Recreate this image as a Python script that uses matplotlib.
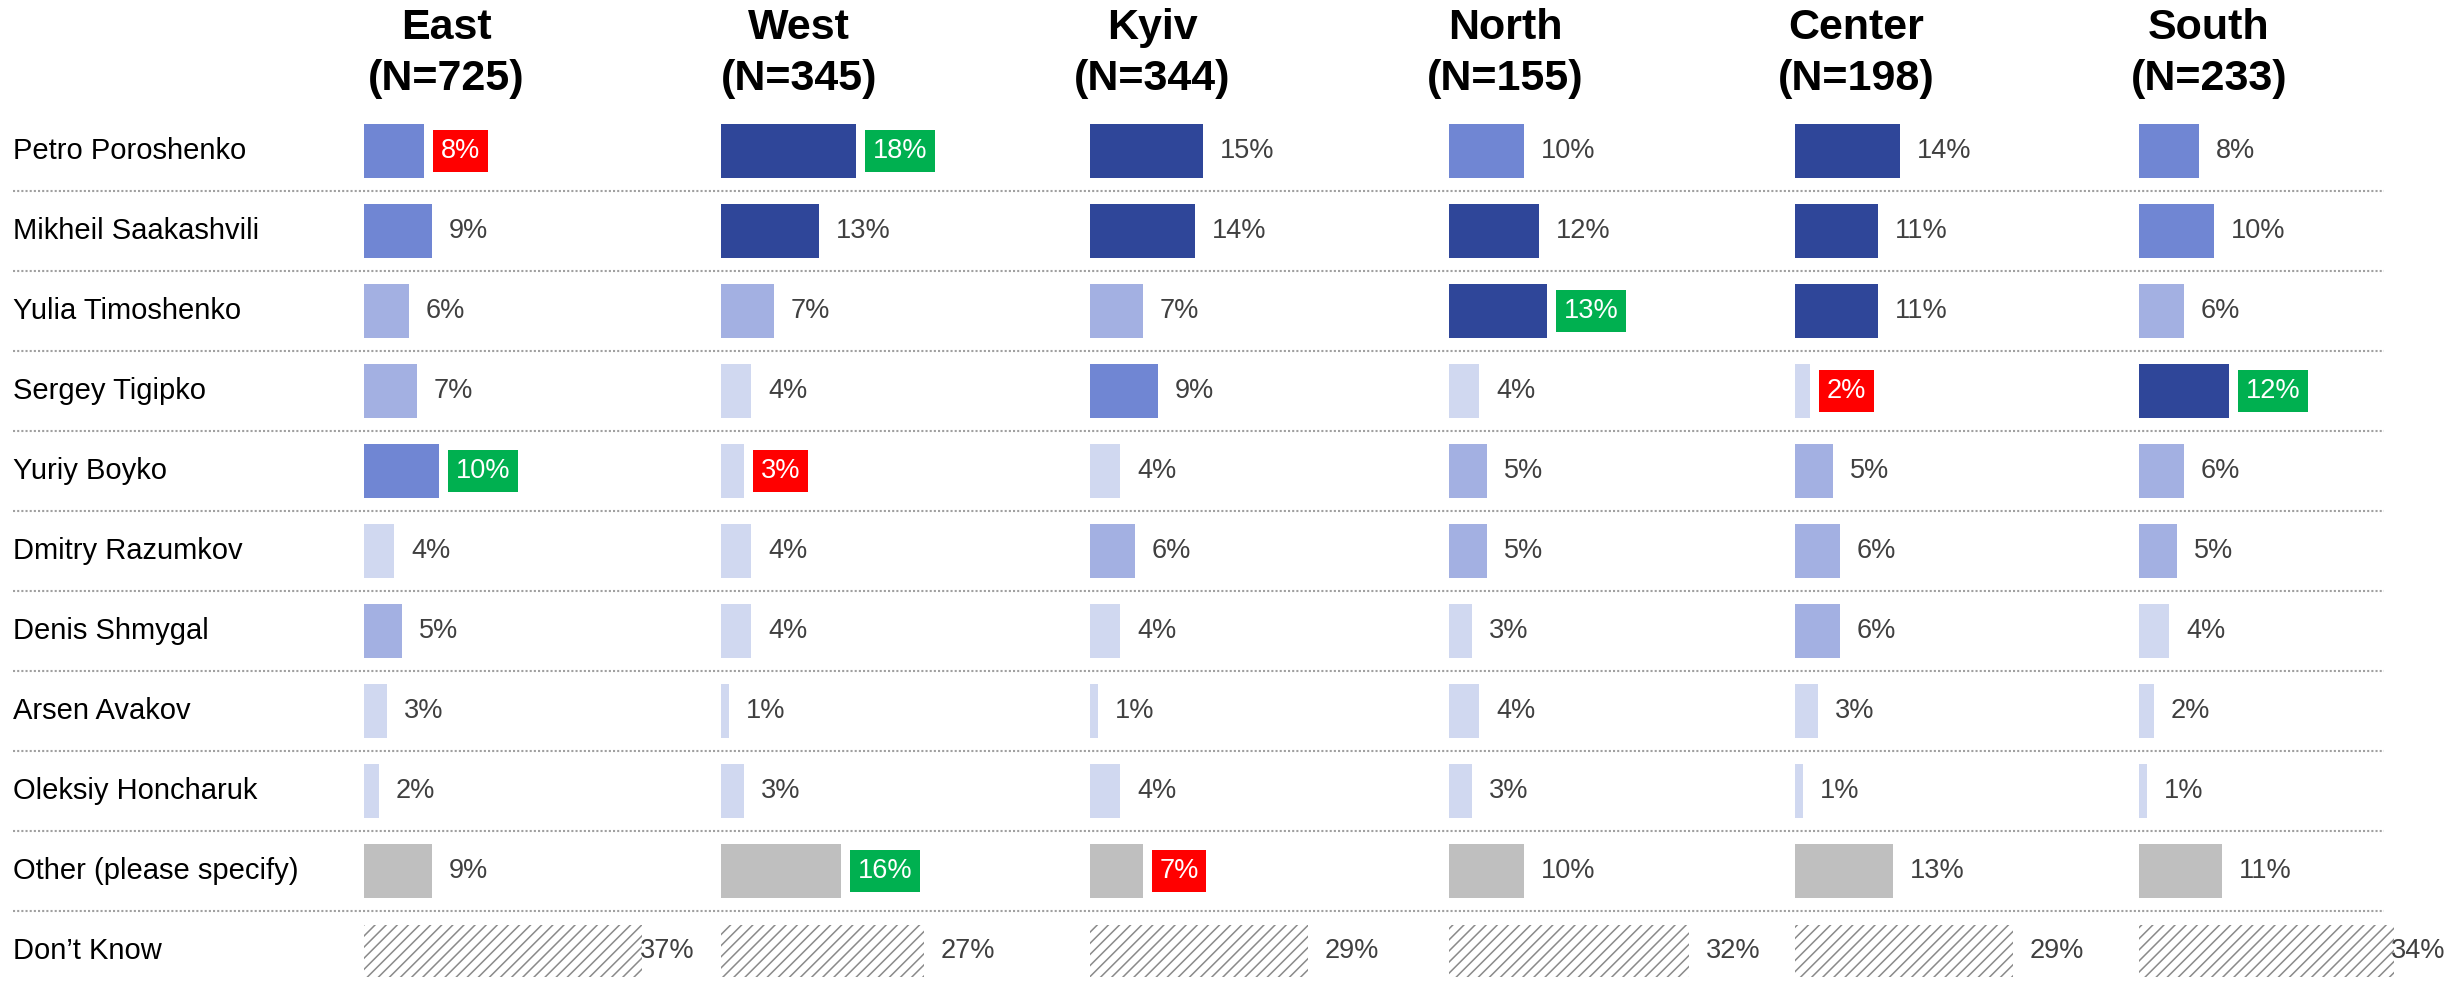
import matplotlib
matplotlib.use('Agg')
import matplotlib.pyplot as plt

plt.rcParams['font.family'] = ['Liberation Sans', 'DejaVu Sans']
plt.rcParams['hatch.linewidth'] = 1.1

# ---------------- data ----------------
candidates = ["Petro Poroshenko", "Mikheil Saakashvili", "Yulia Timoshenko",
              "Sergey Tigipko", "Yuriy Boyko", "Dmitry Razumkov", "Denis Shmygal",
              "Arsen Avakov", "Oleksiy Honcharuk", "Other (please specify)",
              "Don\u2019t Know"]
regions = ["East", "West", "Kyiv", "North", "Center", "South"]
sample_sizes = [725, 345, 344, 155, 198, 233]

east = [8, 9, 6, 7, 10, 4, 5, 3, 2, 9, 37]
west = [18, 13, 7, 4, 3, 4, 4, 1, 3, 16, 27]
kyiv = [15, 14, 7, 9, 4, 6, 4, 1, 4, 7, 29]
north = [10, 12, 13, 4, 5, 5, 3, 4, 3, 10, 32]
center = [14, 11, 11, 2, 5, 6, 6, 3, 1, 13, 29]
south = [8, 10, 6, 12, 6, 5, 4, 2, 1, 11, 34]
values = [east, west, kyiv, north, center, south]

# highlighted labels: (region, candidate index, kind)
highlights = [("East", 0, "low"), ("East", 4, "high"),
              ("West", 0, "high"), ("West", 4, "low"), ("West", 9, "high"),
              ("Kyiv", 9, "low"), ("North", 2, "high"),
              ("Center", 3, "low"), ("South", 3, "high")]

# ---------------- style / layout ----------------
W, H = 2451, 990
DARK, MED, LIGHT, VLIGHT = "#2F4699", "#7086D3", "#A3B0E2", "#D0D8F0"
GRAY = "#BFBFBF"
TXT = "#404040"
BOX = {"high": "#00B050", "low": "#FF0000"}

col_left_px = [364, 721, 1090, 1449, 1795, 2139]
title_cx_px = [446, 799, 1152, 1505, 1856, 2209]
px_per_pct = 7.5
ax_w_px = 330
rows_top_px, row_h_px = 111, 80
n_rows = len(candidates)
gap_px = 17
label_cap_pct = 36.8


def tier(v):
    if v >= 11:
        return DARK
    if v >= 8:
        return MED
    if v >= 5:
        return LIGHT
    return VLIGHT


fig = plt.figure(figsize=(W / 100, H / 100), dpi=100)

# background axes in pixel coordinates for separators and row labels
bg = fig.add_axes([0, 0, 1, 1])
bg.set_xlim(0, W)
bg.set_ylim(H, 0)
bg.axis("off")

for k in range(1, n_rows):
    y = rows_top_px + row_h_px * k
    bg.plot([13, 2384], [y, y], color="#A0A0A0", lw=1.5,
            linestyle=(0, (1, 1)), solid_capstyle="butt")

for i, name in enumerate(candidates):
    y = rows_top_px + row_h_px * (i + 0.5)
    bg.text(13, y, name, fontsize=21, color="#000000", va="center", ha="left")

for cx, reg, n in zip(title_cx_px, regions, sample_sizes):
    bg.text(cx, 39, reg, fontsize=31, fontweight="bold", ha="center",
            va="baseline", color="black")
    bg.text(cx, 90, f"(N={n})", fontsize=31, fontweight="bold", ha="center",
            va="baseline", color="black")

hl_set = {(r, i): kind for r, i, kind in highlights}
gap = gap_px / px_per_pct
edge_texts = []

for c, (reg, vals) in enumerate(zip(regions, values)):
    left = col_left_px[c] / W
    bottom = 1 - (rows_top_px + row_h_px * n_rows) / H
    ax = fig.add_axes([left, bottom, ax_w_px / W, row_h_px * n_rows / H])
    ax.set_xlim(0, ax_w_px / px_per_pct)
    ax.set_ylim(n_rows - 0.5, -0.5)
    ax.axis("off")
    ax.patch.set_alpha(0)

    ypos = list(range(n_rows))
    cand_vals = vals[:9]
    ax.barh(ypos[:9], cand_vals, height=0.68, color=[tier(v) for v in cand_vals],
            edgecolor="none")
    ax.barh(ypos[9], vals[9], height=0.68, color=GRAY, edgecolor="none")
    ax.barh(ypos[10], vals[10], height=0.66, facecolor="white",
            edgecolor="#8A8A8A", hatch="///", lw=0)

    for i, v in enumerate(vals):
        x = min(v + gap, label_cap_pct)
        kind = hl_set.get((reg, i))
        if kind:
            t = ax.text(x, i, f"{v}%", fontsize=19.5, color="white", va="center",
                        ha="left", clip_on=False,
                        bbox=dict(boxstyle="square,pad=0.28", fc=BOX[kind],
                                  ec="none"))
        else:
            t = ax.text(x, i, f"{v}%", fontsize=19.5, color=TXT, va="center",
                        ha="left", clip_on=False)
        edge_texts.append((ax, t))

# keep labels inside the figure
renderer = fig.canvas.get_renderer()
for ax, t in edge_texts:
    bb = t.get_window_extent(renderer)
    if bb.x1 > W - 6:
        shift_px = bb.x1 - (W - 6)
        x, y = t.get_position()
        t.set_x(x - shift_px / px_per_pct)

fig.savefig("out.png", dpi=100)
